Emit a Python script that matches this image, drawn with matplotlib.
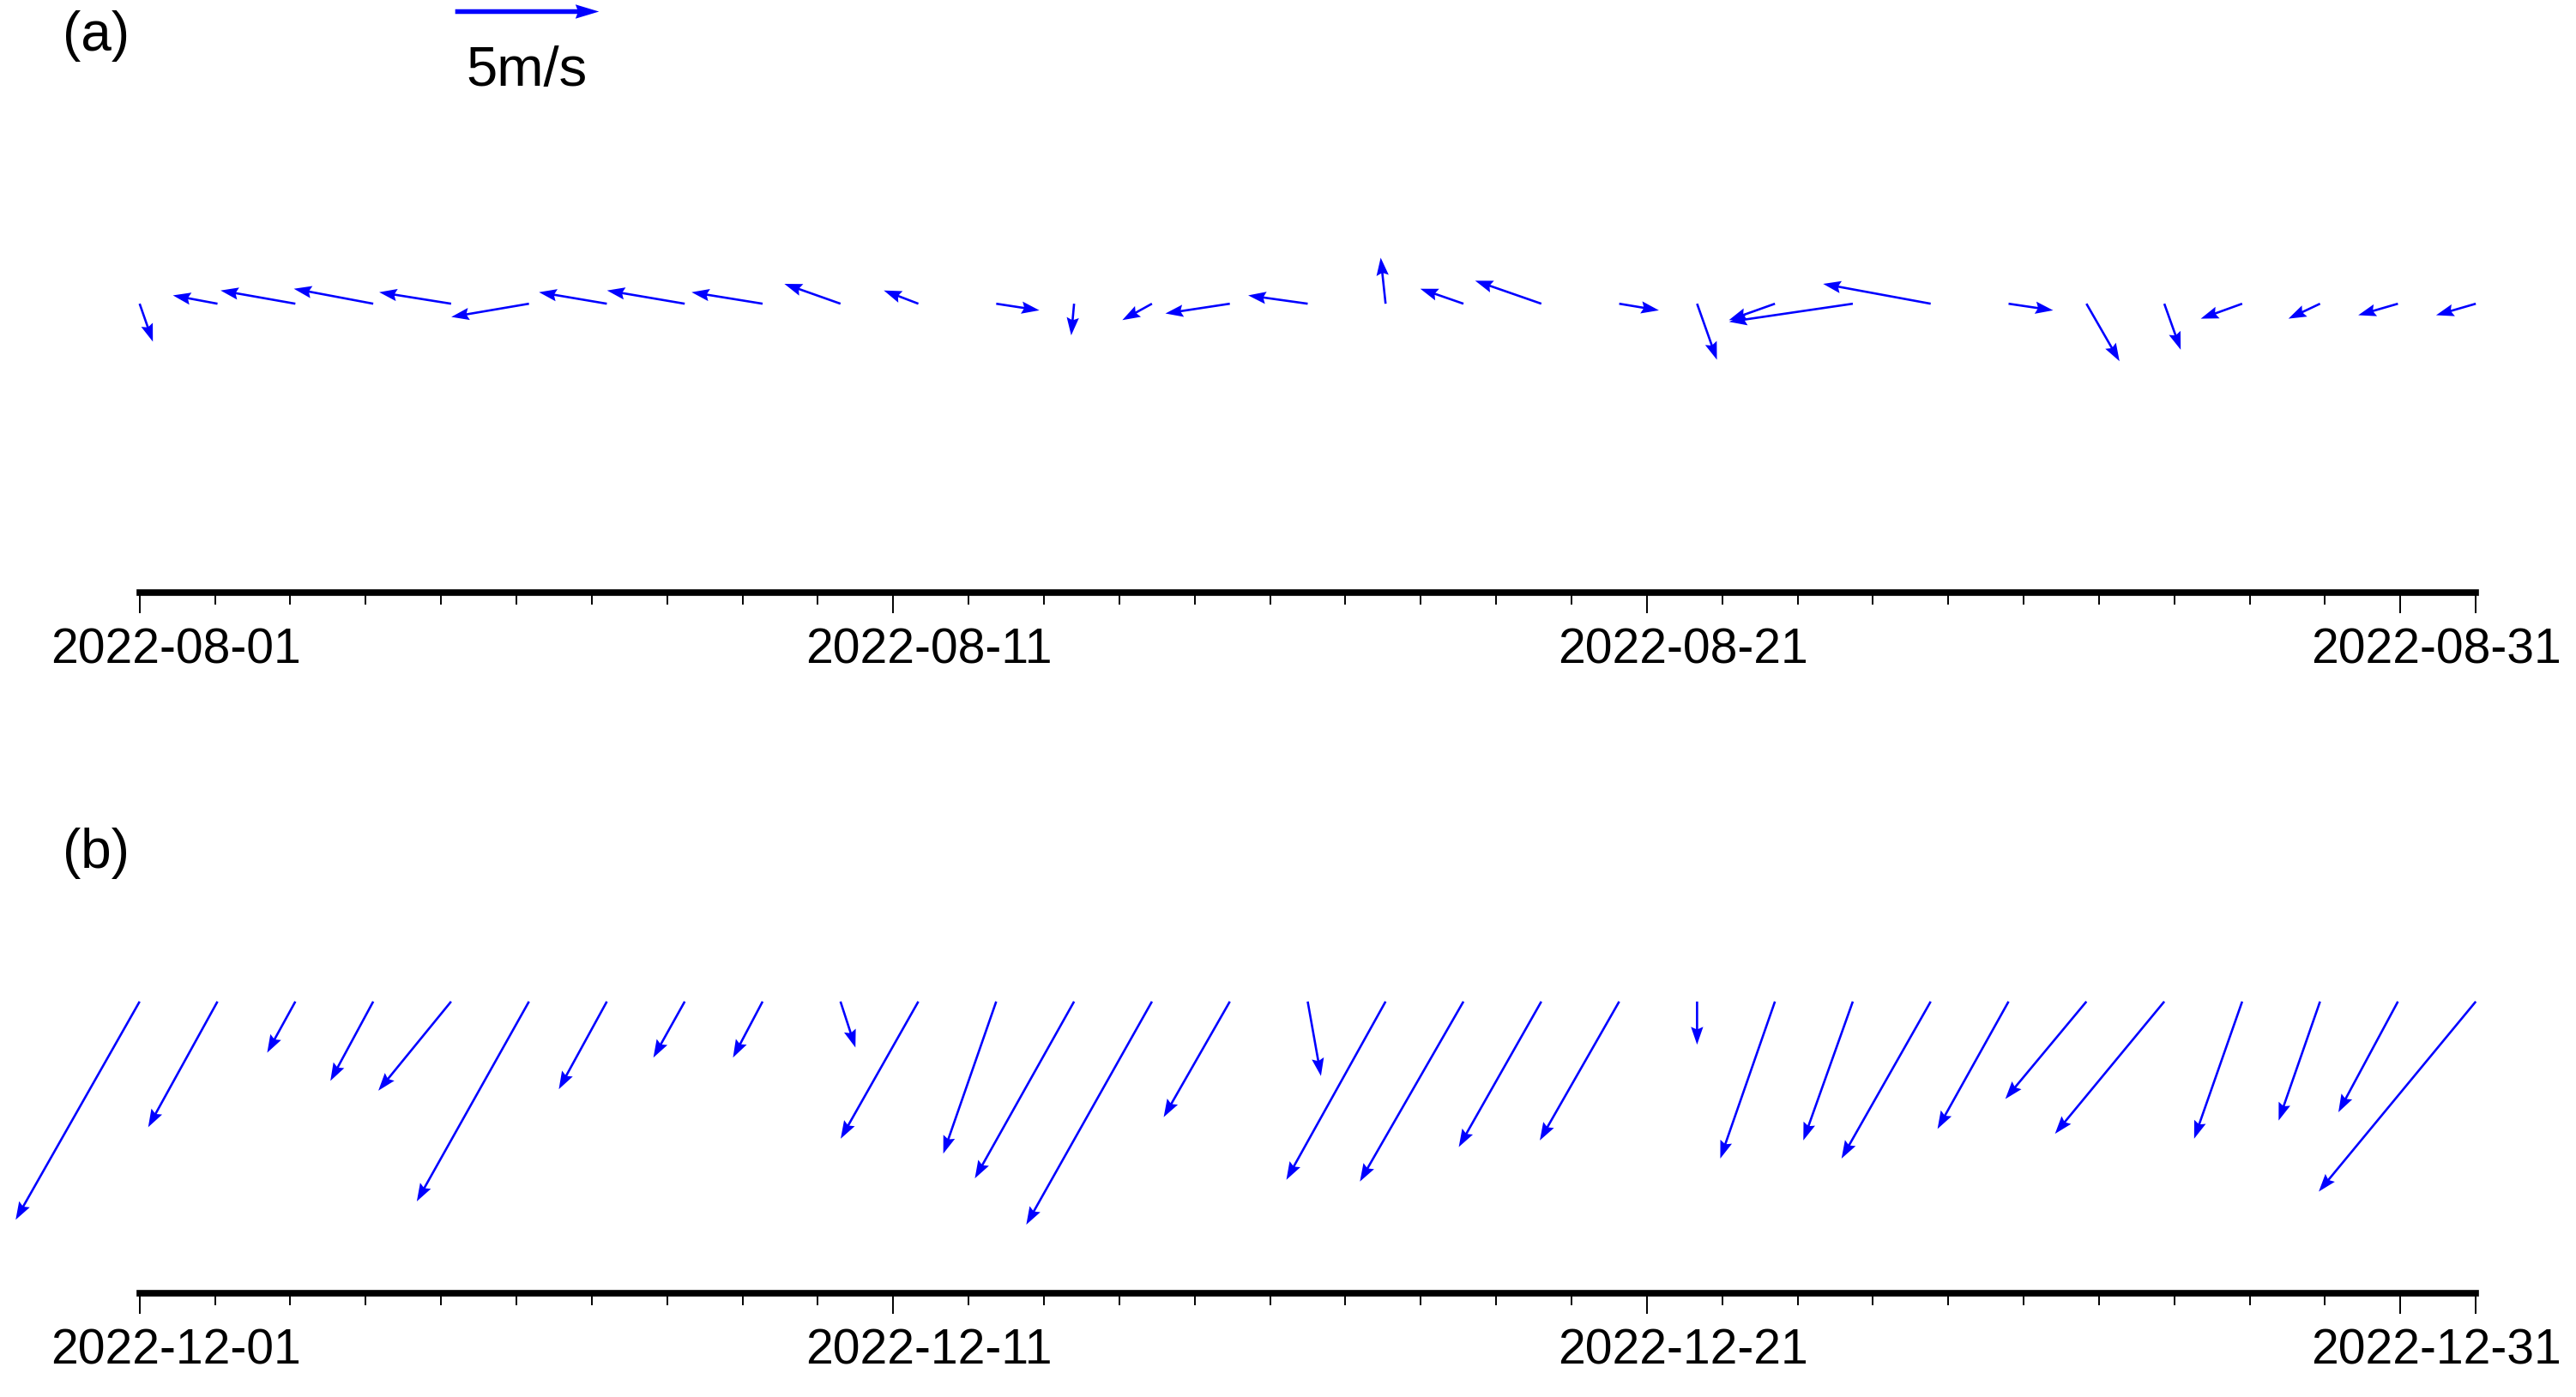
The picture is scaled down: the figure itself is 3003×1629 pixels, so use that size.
import datetime as dt
import numpy as np
import matplotlib
matplotlib.use("Agg")
import matplotlib.pyplot as plt
import matplotlib.dates as mdates
from matplotlib.transforms import ScaledTranslation

plt.rcParams["font.family"] = ["Liberation Sans", "DejaVu Sans"]

# daily wind vectors (m/s)
u_aug = [0.46, -1.55, -2.6, -2.76, -2.5, -2.7, -2.36, -2.7, -2.47, -1.95, -1.2,
         1.5, -0.1, -1.03, -2.24, -2.07, -0.17, -1.5, -2.3, 1.38, 0.69,
         -1.6, -4.3, -3.74, 1.55, 1.15, 0.57, -1.44, -1.1, -1.38, -1.38]
v_aug = [-1.32, 0.29, 0.46, 0.52, 0.4, -0.46, 0.4, 0.46, 0.4, 0.69, 0.46,
         -0.23, -1.1, -0.57, -0.34, 0.29, 1.6, 0.52, 0.8, -0.23, -1.95,
         -0.57, -0.63, 0.69, -0.23, -2.0, -1.6, -0.52, -0.52, -0.4, -0.4]

u_dec = [-4.31, -2.41, -0.98, -1.49, -2.53, -3.9, -1.67, -1.09, -1.03, 0.52, -2.7,
         -1.84, -3.45, -4.37, -2.3, 0.46, -3.45, -3.6, -2.87, -2.76, 0.0,
         -1.9, -1.72, -3.1, -2.47, -2.82, -3.8, -1.67, -1.44, -2.07, -5.46]
v_dec = [-7.59, -4.37, -1.78, -2.76, -3.1, -6.95, -3.05, -1.95, -1.95, -1.6, -4.77,
         -5.29, -6.15, -7.76, -4.02, -2.59, -6.2, -6.26, -5.06, -4.83, -1.5,
         -5.46, -4.83, -5.46, -4.43, -3.39, -4.6, -4.77, -4.14, -3.85, -6.61]

panels = [
    ("(a)", dt.date(2022, 8, 1), dt.date(2022, 9, 1), u_aug, v_aug),
    ("(b)", dt.date(2022, 12, 1), dt.date(2023, 1, 1), u_dec, v_dec),
]

SCALE = 2.62  # m/s per day on the x axis
arrow_kw = dict(angles="uv", scale_units="x", scale=SCALE, pivot="tail",
                color="blue", units="dots", width=2.6, headwidth=5.5,
                headlength=8, headaxislength=7)

fig = plt.figure(figsize=(30.03, 16.29), dpi=100)
ax_a = fig.add_axes([0.0542, 0.5758, 0.9069, 0.4242])
ax_b = fig.add_axes([0.0542, 0.0740, 0.9069, 0.4207])
axes = [ax_a, ax_b]
base = [0.4875, 0.497]   # arrow baseline, fraction of axes height
label_y = [0.974, 0.389]

for ax, (tag, start, end, u, v), yb, ly in zip(axes, panels, base, label_y):
    t0 = mdates.date2num(start)
    t1 = mdates.date2num(end)
    x = np.linspace(t0, t1, len(u))
    q = ax.quiver(x, np.zeros(len(u)), u, v, **arrow_kw)
    q.set_clip_on(False)
    ax.set_xlim(t0, t1)
    ax.set_ylim(-yb, 1 - yb)

    major = [start + dt.timedelta(days=d) for d in (0, 10, 20, 30)]
    labels = [d.strftime("%Y-%m-%d") for d in major] + [""]
    ax.set_xticks([mdates.date2num(d) for d in major] + [t1], labels=labels)
    ax.xaxis.set_minor_locator(mdates.DayLocator())
    ax.tick_params(axis="x", which="major", length=17, width=1.4,
                   labelsize=41, pad=12)
    ax.tick_params(axis="x", which="minor", length=10, width=1.4)
    ax.set_yticks([])
    for s in ["top", "left", "right"]:
        ax.spines[s].set_visible(False)
    ax.spines["bottom"].set_linewidth(5.5)
    shift = ScaledTranslation(0.42, 0, fig.dpi_scale_trans)
    for lab in ax.get_xticklabels():
        lab.set_transform(lab.get_transform() + shift)

    fig.text(0.0242, ly, tag, ha="left", va="center", fontsize=46)

# reference vector
key_kw = dict(arrow_kw)
key_kw["width"] = 5.5
key_kw["headwidth"] = 3
key_kw["headlength"] = 5
key_kw["headaxislength"] = 4.6
q_key = ax_a.quiver([np.nan], [np.nan], [5], [0], **key_kw)
ax_a.quiverkey(q_key, 0.2045, 0.9918, 5, "5m/s", coordinates="figure",
               labelpos="S", labelsep=0.4, color="blue",
               fontproperties={"size": 47})

fig.savefig("out.png", dpi=100)
